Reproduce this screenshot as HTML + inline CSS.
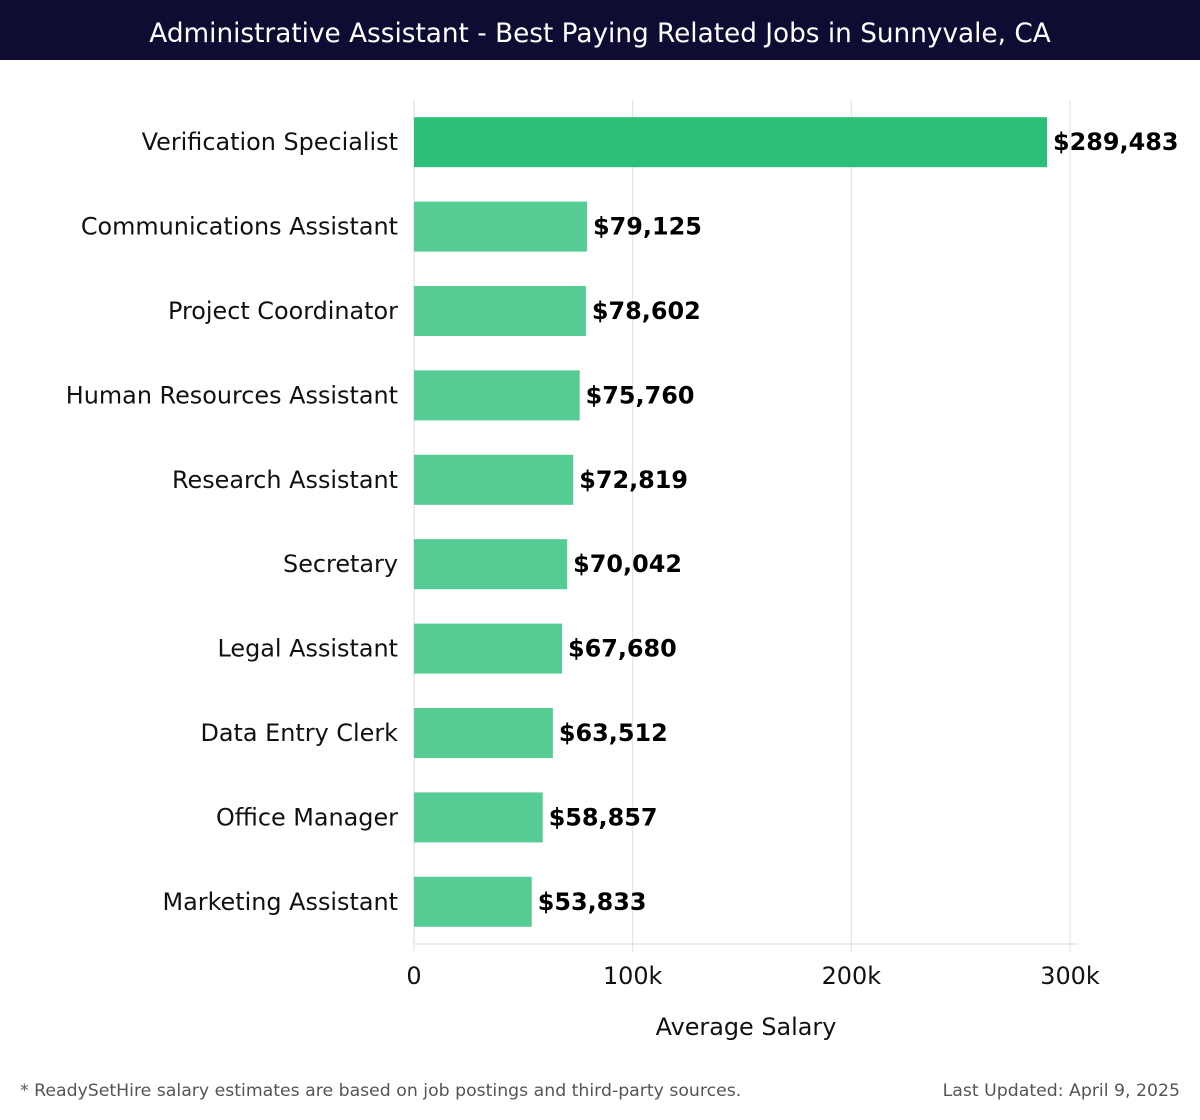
<!DOCTYPE html>
<html><head><meta charset="utf-8"><style>
body{margin:0;width:1200px;height:1120px;background:#fff;font-family:"DejaVu Sans","Liberation Sans",sans-serif;overflow:hidden}
#title{position:absolute;left:0;top:0;width:1200px;height:60px;background:#0e0c33;color:#fff;font-size:26.3px;line-height:68px;text-align:center;font-family:"DejaVu Sans","Liberation Sans",sans-serif}
.foot{position:absolute;top:1081px;font-size:17.3px;color:#555;font-family:"DejaVu Sans","Liberation Sans",sans-serif}
</style></head><body>
<div id="title">Administrative Assistant - Best Paying Related Jobs in Sunnyvale, CA</div>
<svg id="chart" width="1200" height="1060" style="position:absolute;left:0;top:0;font-family:'DejaVu Sans',sans-serif"></svg>
<div class="foot" style="left:20px">* ReadySetHire salary estimates are based on job postings and third-party sources.</div>
<div class="foot" style="right:20px">Last Updated: April 9, 2025</div>
<script>
const categories=["Verification Specialist","Communications Assistant","Project Coordinator","Human Resources Assistant","Research Assistant","Secretary","Legal Assistant","Data Entry Clerk","Office Manager","Marketing Assistant"];
const salaries=[289483,79125,78602,75760,72819,70042,67680,63512,58857,53833];
const tickValues=[0,100000,200000,300000];
const tickLabels=["0","100k","200k","300k"];
const NS="http://www.w3.org/2000/svg";
const svg=document.getElementById('chart');
const x0=414,x1=1070,xmax=300000,top0=100,bottom=944;
const xs=v=>x0+v/xmax*(x1-x0);
const step=(bottom-top0)/categories.length;
const yc=i=>top0+step*(i+0.5);
function mk(t,a){const e=document.createElementNS(NS,t);for(const k in a)e.setAttribute(k,a[k]);svg.appendChild(e);return e;}
tickValues.forEach((v,i)=>{
  const g=mk('line',{x1:xs(v),x2:xs(v),y1:top0,y2:bottom+8,stroke:'#e0e0e0','stroke-width':1});
  
  
  const t=mk('text',{x:xs(v),y:984,'text-anchor':'middle','font-size':23.9,fill:'#111'});
  t.textContent=tickLabels[i];
  
  
});
const ax=mk('line',{x1:x0,x2:1078,y1:bottom,y2:bottom,stroke:'#d8d8d8'});


const ay=mk('line',{x1:x0,x2:x0,y1:top0,y2:bottom,stroke:'#d8d8d8'});


categories.forEach((c,i)=>{
  const y=yc(i);
  const r=mk('rect',{x:x0,y:y-25,width:xs(salaries[i])-x0,height:50,fill:i===0?'#2bbf77':'#54cc94'});
  
  
  const l=mk('text',{x:398,y:y+8,'text-anchor':'end','font-size':23.9,fill:'#111'});
  l.textContent=c;
  
  
  const v=mk('text',{x:xs(salaries[i])+6,y:y+8,'font-size':23.9,'font-weight':'bold',fill:'#000'});
  v.textContent='$'+salaries[i].toLocaleString('en-US');
  
  
});
const at=mk('text',{x:746,y:1035,'text-anchor':'middle','font-size':23.9,fill:'#111'});
at.textContent='Average Salary';


</script>
</body></html>
